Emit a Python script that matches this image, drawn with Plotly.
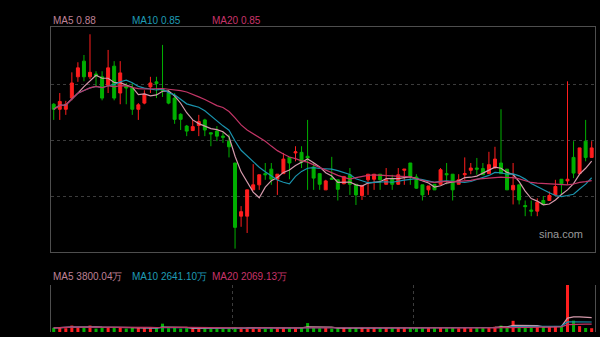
import plotly.graph_objects as go
import pandas as pd

# ---- data (price in yuan, volume in 万) ----
open_ = [0.984, 0.975, 0.975, 0.995, 1.033, 1.061, 1.033, 1.038, 1.033, 1.018,
         1.052, 1.004, 1.016, 1.013, 0.975, 0.986, 1.015, 1.024, 1.011, 1.004,
         0.995, 0.966, 0.945, 0.937, 0.946, 0.956, 0.933, 0.936, 0.927, 0.918,
         0.879, 0.784, 0.784, 0.831, 0.840, 0.860, 0.868, 0.850, 0.860, 0.889,
         0.897, 0.898, 0.891, 0.872, 0.860, 0.831, 0.852, 0.849, 0.842, 0.858,
         0.841, 0.821, 0.849, 0.850, 0.859, 0.841, 0.850, 0.841, 0.866, 0.879,
         0.854, 0.840, 0.831, 0.841, 0.841, 0.860, 0.859, 0.841, 0.858, 0.866,
         0.870, 0.869, 0.860, 0.870, 0.879, 0.868, 0.831, 0.840, 0.803, 0.795,
         0.793, 0.812, 0.812, 0.822, 0.850, 0.847, 0.889, 0.860, 0.918, 0.889]
high = [0.986, 1.004, 0.990, 1.041, 1.059, 1.072, 1.109, 1.043, 1.043, 1.081,
        1.061, 1.061, 1.022, 1.022, 0.986, 1.009, 1.033, 1.033, 1.090, 1.009,
        1.004, 0.968, 0.947, 0.956, 0.965, 0.958, 0.934, 0.945, 0.934, 0.930,
        0.879, 0.802, 0.831, 0.877, 0.858, 0.879, 0.879, 0.859, 0.897, 0.889,
        0.909, 0.909, 0.956, 0.879, 0.860, 0.849, 0.890, 0.849, 0.855, 0.870,
        0.841, 0.839, 0.859, 0.859, 0.859, 0.870, 0.858, 0.870, 0.868, 0.879,
        0.859, 0.840, 0.838, 0.841, 0.870, 0.879, 0.859, 0.859, 0.889, 0.879,
        0.888, 0.879, 0.899, 0.908, 0.975, 0.868, 0.879, 0.840, 0.812, 0.812,
        0.816, 0.820, 0.828, 0.849, 0.850, 1.025, 0.918, 0.906, 0.956, 0.918]
low = [0.956, 0.956, 0.965, 0.991, 1.024, 1.025, 1.029, 1.015, 0.991, 1.004,
       0.991, 0.984, 0.984, 0.965, 0.956, 0.984, 1.004, 0.995, 0.997, 0.984,
       0.949, 0.938, 0.927, 0.936, 0.927, 0.927, 0.909, 0.918, 0.915, 0.889,
       0.726, 0.765, 0.754, 0.831, 0.831, 0.849, 0.840, 0.822, 0.860, 0.850,
       0.882, 0.870, 0.831, 0.831, 0.831, 0.831, 0.849, 0.812, 0.841, 0.822,
       0.804, 0.813, 0.822, 0.831, 0.831, 0.841, 0.831, 0.840, 0.840, 0.840,
       0.833, 0.812, 0.822, 0.831, 0.840, 0.841, 0.812, 0.841, 0.849, 0.859,
       0.858, 0.858, 0.860, 0.870, 0.860, 0.831, 0.805, 0.805, 0.784, 0.784,
       0.784, 0.805, 0.812, 0.822, 0.822, 0.840, 0.852, 0.859, 0.882, 0.889]
close = [0.975, 0.989, 0.984, 1.022, 1.049, 1.033, 1.041, 1.034, 0.995, 1.049,
         0.995, 1.040, 1.013, 0.975, 0.983, 1.002, 1.022, 1.021, 1.008, 0.986,
         0.957, 0.957, 0.936, 0.944, 0.953, 0.938, 0.931, 0.927, 0.925, 0.908,
         0.764, 0.792, 0.831, 0.840, 0.858, 0.858, 0.850, 0.859, 0.886, 0.879,
         0.899, 0.880, 0.888, 0.852, 0.841, 0.847, 0.850, 0.832, 0.855, 0.841,
         0.822, 0.839, 0.859, 0.859, 0.849, 0.849, 0.841, 0.858, 0.868, 0.855,
         0.834, 0.822, 0.838, 0.831, 0.867, 0.858, 0.831, 0.849, 0.860, 0.870,
         0.868, 0.858, 0.876, 0.886, 0.860, 0.831, 0.839, 0.813, 0.801, 0.793,
         0.809, 0.805, 0.821, 0.837, 0.842, 0.850, 0.861, 0.906, 0.889, 0.906]
volume = [1100, 1300, 1000, 1700, 1200, 1300, 1700, 900, 1200, 1300,
          1200, 1300, 900, 1100, 1000, 1000, 1100, 1000, 2200, 1000,
          1100, 900, 1000, 900, 1000, 1000, 800, 1000, 800, 1000,
          1300, 1100, 1200, 1100, 1000, 900, 1000, 1100, 1200, 1000,
          1000, 1100, 2350, 1100, 1000, 1100, 900, 1000, 1100, 1000,
          1100, 1200, 1000, 1100, 1000, 1100, 1000, 1100, 1000, 1200,
          1100, 1000, 1100, 1000, 1200, 1000, 1100, 1000, 1100, 1000,
          1200, 1200, 1300, 1400, 1700, 1300, 2950, 1400, 1200, 1300,
          1500, 1400, 1500, 1600, 1400, 12400, 3000, 1550, 1050, 1000]

ma_labels_price = ["MA5 0.88", "MA10 0.85", "MA20 0.85"]
ma_labels_vol = ["MA5 3800.04万", "MA10 2641.10万", "MA20 2069.13万"]
grid_prices = [0.82, 0.92, 1.02]
vol_separators = [29.5, 59.5]

RED = "#ff1e1e"
GREEN = "#00b000"
MA_COLORS = ["#d59aac", "#1a93ad", "#c23566"]
LABEL_COLORS = ["#bf8196", "#1f9bb5", "#c8346a"]
GRID = "#3c3c3c"
BORDER = "#4e4e4e"

x = list(range(len(close)))
cs = pd.Series(close)
vs = pd.Series(volume)
periods = [5, 10, 20]

fig = go.Figure()
fig.add_trace(go.Candlestick(
    x=x, open=open_, high=high, low=low, close=close,
    increasing=dict(line=dict(color=RED, width=1), fillcolor=RED),
    decreasing=dict(line=dict(color=GREEN, width=1), fillcolor=GREEN),
    whiskerwidth=0, xaxis="x", yaxis="y", hoverinfo="skip"))
for p, c in zip(periods, MA_COLORS):
    fig.add_trace(go.Scatter(x=x, y=cs.rolling(p, min_periods=1).mean(), mode="lines",
                             line=dict(color=c, width=1.2), xaxis="x", yaxis="y",
                             hoverinfo="skip"))

vcol = [RED if c >= o else GREEN for o, c in zip(open_, close)]
fig.add_trace(go.Bar(x=x, y=volume, marker=dict(color=vcol, line=dict(width=0)),
                     width=0.5, xaxis="x2", yaxis="y2", hoverinfo="skip"))
for p, c in zip(periods, MA_COLORS):
    fig.add_trace(go.Scatter(x=x, y=vs.rolling(p, min_periods=1).mean(), mode="lines",
                             line=dict(color=c, width=1.2), xaxis="x2", yaxis="y2",
                             hoverinfo="skip"))

xdom = [51 / 600, 595 / 600]
xr = [-0.45, len(close) - 0.45]
fig.update_layout(
    width=600, height=337, margin=dict(l=0, r=0, t=0, b=0),
    paper_bgcolor="black", plot_bgcolor="black", showlegend=False,
    font=dict(family="Liberation Sans, Arial, sans-serif", size=10),
    xaxis=dict(domain=xdom, range=xr, anchor="y", showgrid=False, showticklabels=False,
               zeroline=False, showline=True, linecolor=BORDER, linewidth=1, mirror=True,
               rangeslider=dict(visible=False), ticks=""),
    yaxis=dict(domain=[1 - 252 / 337, 1 - 27 / 337], range=[0.72, 1.122], anchor="x",
               tickvals=grid_prices, showgrid=True, gridcolor=GRID, griddash="dot",
               gridwidth=1, showticklabels=False, zeroline=False, showline=True,
               linecolor=BORDER, linewidth=1, mirror=True, ticks=""),
    xaxis2=dict(domain=xdom, range=xr, anchor="y2", tickvals=vol_separators,
                showgrid=True, gridcolor=GRID, griddash="dot", showticklabels=False,
                zeroline=False, showline=False, ticks=""),
    yaxis2=dict(domain=[1 - 332 / 337, 1 - 285 / 337], range=[0, max(volume)], anchor="x2",
                tickvals=[max(volume)], showgrid=True, gridcolor=GRID, griddash="dot",
                showticklabels=False, zeroline=False, showline=True, linecolor=BORDER,
                linewidth=1, mirror=True, ticks=""),
    bargap=0.4,
)

ann_x = [51, 130, 210]
for txt, col, ax in zip(ma_labels_price, LABEL_COLORS, ann_x):
    fig.add_annotation(x=ax / 600, y=1 - 20 / 337, xref="paper", yref="paper", text=txt,
                       showarrow=False, xanchor="left", yanchor="middle",
                       font=dict(color=col, size=10))
for txt, col, ax in zip(ma_labels_vol, LABEL_COLORS, ann_x):
    fig.add_annotation(x=ax / 600, y=1 - 276 / 337, xref="paper", yref="paper", text=txt,
                       showarrow=False, xanchor="left", yanchor="middle",
                       font=dict(color=col, size=10))
fig.add_annotation(x=585 / 600, y=1 - 234 / 337, xref="paper", yref="paper", text="sina.com",
                   showarrow=False, xanchor="right", yanchor="middle",
                   font=dict(color="#9a9a9a", size=11))

fig.write_html("out.html")
